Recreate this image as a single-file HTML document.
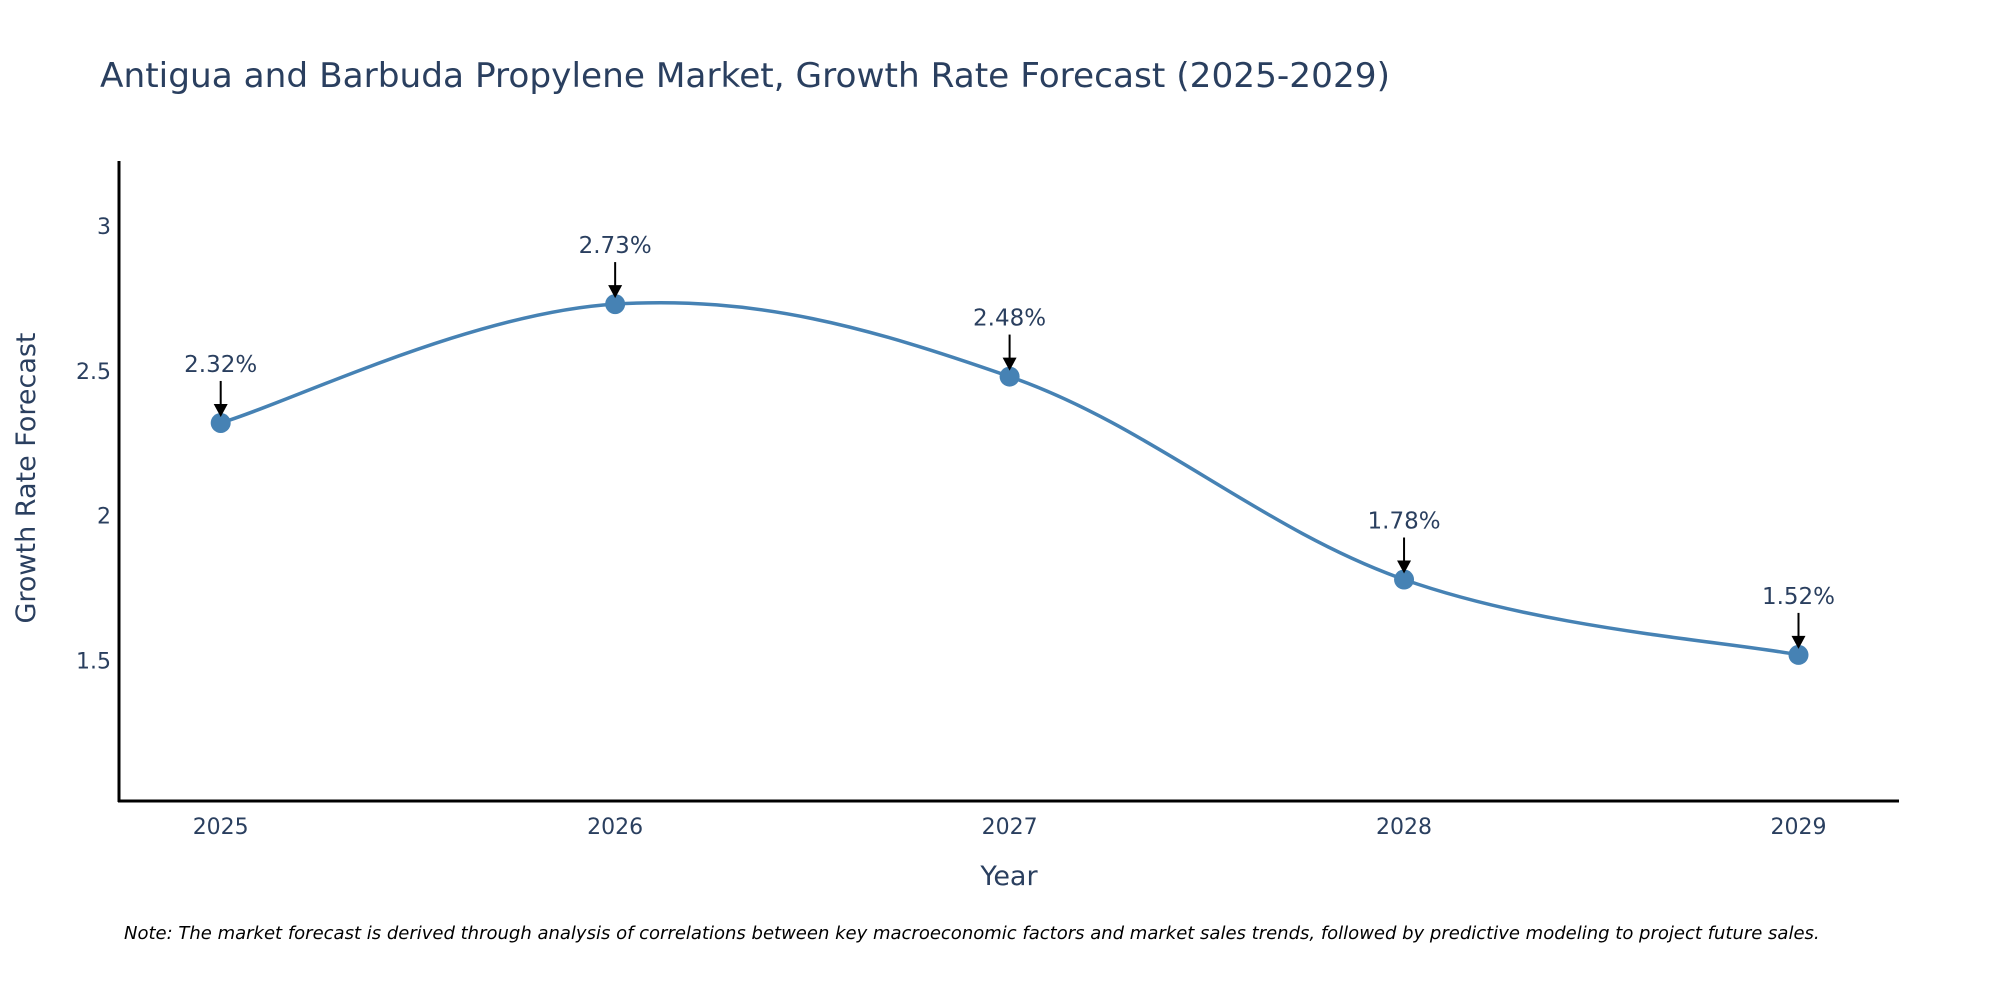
<!DOCTYPE html>
<html><head><meta charset="utf-8"><style>
html,body{margin:0;padding:0;background:#fff;}
svg{display:block;font-family:"DejaVu Sans","Liberation Sans",sans-serif;}
</style></head><body>
<svg id="chart" width="2000" height="1000" viewBox="0 0 2000 1000" xmlns="http://www.w3.org/2000/svg">
<text x="100" y="87" font-size="34" fill="#2a3f5f" textLength="1290" lengthAdjust="spacingAndGlyphs">Antigua and Barbuda Propylene Market, Growth Rate Forecast (2025-2029)</text>
<g id="plot"></g>
<line x1="119" y1="161" x2="119" y2="802" stroke="#000" stroke-width="3"/>
<line x1="118" y1="801" x2="1899" y2="801" stroke="#000" stroke-width="3"/>
<text x="1009" y="885" font-size="27" fill="#2a3f5f" text-anchor="middle">Year</text>
<text transform="translate(35,478) rotate(-90)" font-size="27" fill="#2a3f5f" text-anchor="middle">Growth Rate Forecast</text>
<text x="124" y="939" font-size="18" font-style="italic" fill="#000">Note: The market forecast is derived through analysis of correlations between key macroeconomic factors and market sales trends, followed by predictive modeling to project future sales.</text>
</svg>
<script>
const years = [2025, 2026, 2027, 2028, 2029];
const growth = [2.32, 2.73, 2.48, 1.78, 1.52];
const labels = ["2.32%", "2.73%", "2.48%", "1.78%", "1.52%"];
const yTicks = [1.5, 2, 2.5, 3];
const yTickLabels = ["1.5", "2", "2.5", "3"];

const NS = "http://www.w3.org/2000/svg";
const g = document.getElementById("plot");
const X = v => 220.7 + (v - 2025) * (1798.5 - 220.7) / 4;
const Y = v => 225.8 + (3 - v) * (660.7 - 225.8) / 1.5;
function mk(tag, attrs) { const e = document.createElementNS(NS, tag); for (const k in attrs) e.setAttribute(k, attrs[k]); g.appendChild(e); return e; }

yTicks.forEach((t, i) => {
  const e = mk("text", {x: 111, y: Y(t) + 8, "font-size": 22, fill: "#2a3f5f", "text-anchor": "end"});
  
  
  e.textContent = yTickLabels[i];
});
years.forEach(yr => {
  const e = mk("text", {x: X(yr), y: 834, "font-size": 22, fill: "#2a3f5f", "text-anchor": "middle"});
  
  
  e.textContent = String(yr);
});

const pts = years.map((yr, i) => [X(yr), Y(growth[i])]);
let d = "M" + pts[0][0] + "," + pts[0][1];
const t = 0.18;
for (let i = 0; i < pts.length - 1; i++) {
  const p0 = pts[Math.max(i - 1, 0)], p1 = pts[i], p2 = pts[i + 1], p3 = pts[Math.min(i + 2, pts.length - 1)];
  const c1 = [p1[0] + (p2[0] - p0[0]) * t, p1[1] + (p2[1] - p0[1]) * t];
  const c2 = [p2[0] - (p3[0] - p1[0]) * t, p2[1] - (p3[1] - p1[1]) * t];
  d += " C" + c1[0] + "," + c1[1] + " " + c2[0] + "," + c2[1] + " " + p2[0] + "," + p2[1];
}
const line = mk("path", {d: d, fill: "none", stroke: "#4682b4", "stroke-width": 3.5});



pts.forEach((p, i) => {
  const c = mk("circle", {cx: p[0], cy: p[1], r: 10, fill: "#4682b4"});
  
  
  const a = mk("line", {x1: p[0], y1: p[1] - 42, x2: p[0], y2: p[1] - 16, stroke: "#000", "stroke-width": 2});
  
  
  const h = mk("polygon", {points: (p[0]-7)+","+(p[1]-19)+" "+(p[0]+7)+","+(p[1]-19)+" "+p[0]+","+(p[1]-6), fill: "#000"});
  
  
  const tx = mk("text", {x: p[0], y: p[1] - 51, "font-size": 23, fill: "#2a3f5f", "text-anchor": "middle"});
  
  
  tx.textContent = labels[i];
});
</script>
</body></html>
